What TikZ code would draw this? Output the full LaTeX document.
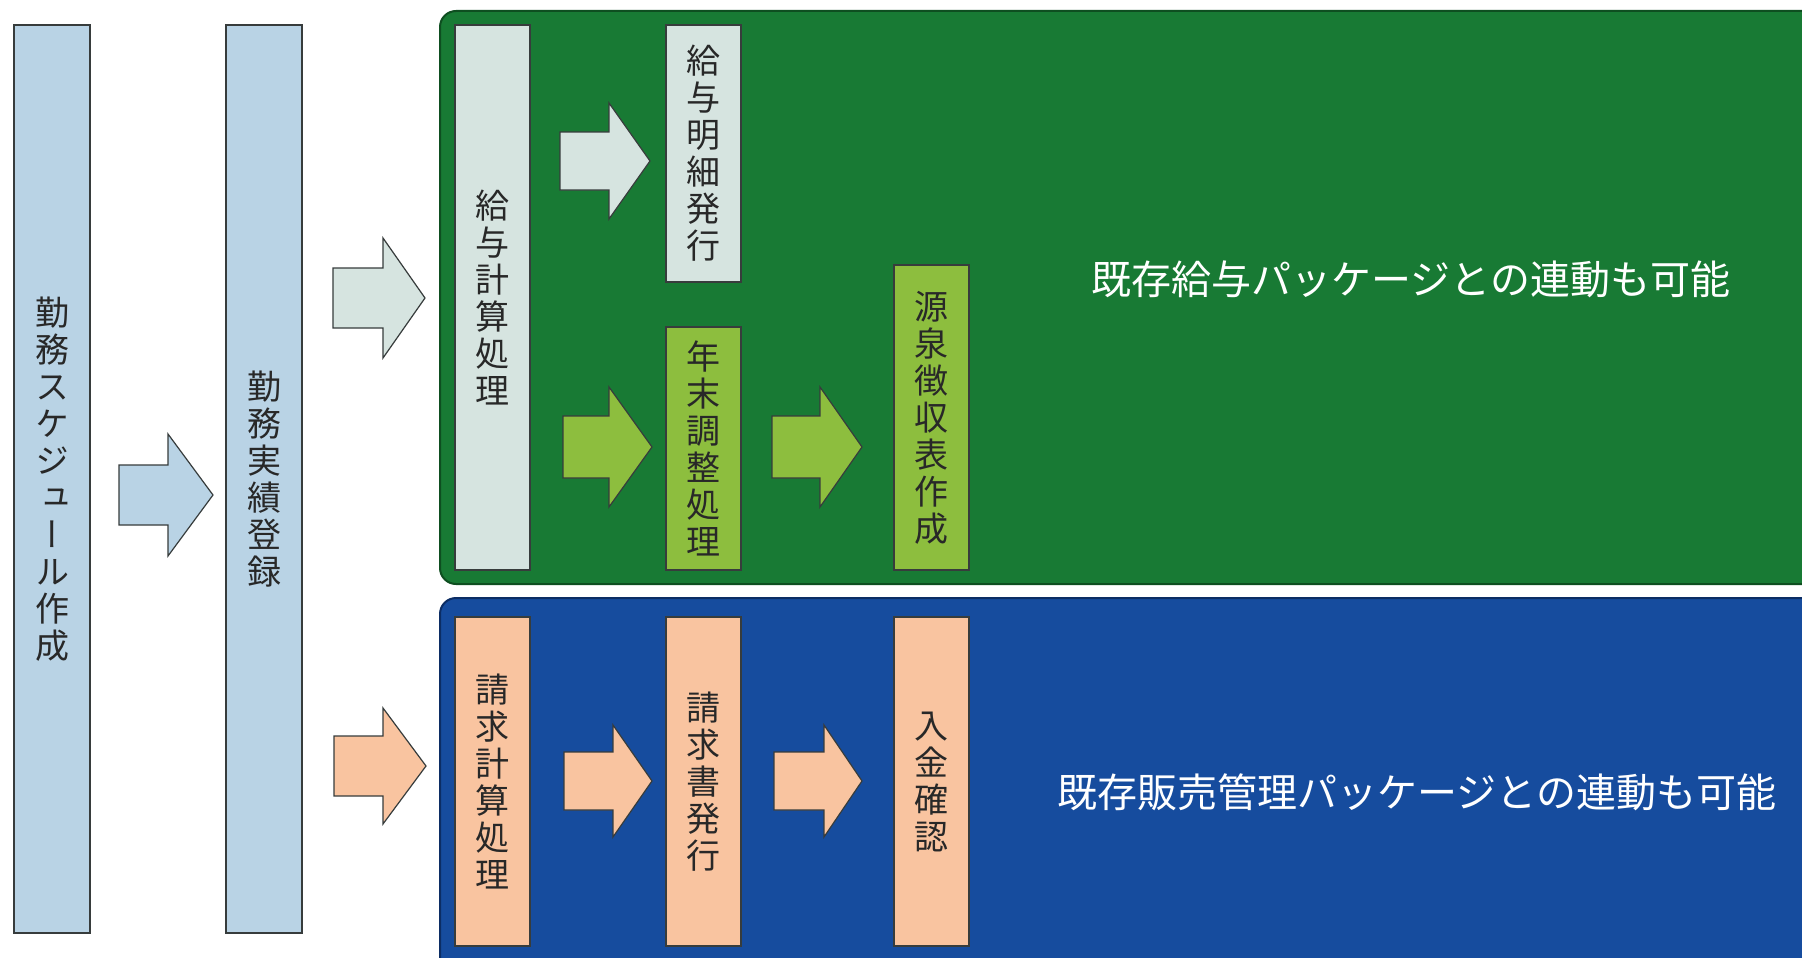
\documentclass[tikz,border=0pt]{standalone}
\usepackage{fontspec}
\setmainfont{Noto Sans CJK JP}
\newfontfamily\vfont[RawFeature={+vert}]{Noto Sans CJK JP}
\definecolor{edge}{RGB}{55,60,60}
\definecolor{lblue}{RGB}{185,211,229}
\definecolor{lgray}{RGB}{214,228,224}
\definecolor{gpanel}{RGB}{24,122,52}
\definecolor{gpanelE}{RGB}{14,78,32}
\definecolor{lgreen}{RGB}{141,190,62}
\definecolor{bpanel}{RGB}{22,76,158}
\definecolor{bpanelE}{RGB}{12,45,100}
\definecolor{salmon}{RGB}{249,196,160}
\definecolor{txt}{RGB}{40,40,40}
\newcommand\barrow[7]{%
  \draw[arr, fill=#7] ({#1},{#4-#5}) -- ({#2},{#4-#5}) -- ({#2},{#4-#6}) -- ({#3},{#4})
    -- ({#2},{#4+#6}) -- ({#2},{#4+#5}) -- ({#1},{#4+#5}) -- cycle;}
\begin{document}
\begin{tikzpicture}[x=1pt,y=-1pt,
  box/.style={draw=edge, line width=2pt, inner sep=0pt, text=txt,
    font=\vfont\fontsize{34}{37}\selectfont, align=center},
  arr/.style={draw=edge, line width=1.2pt, line join=miter},
  panel/.style={rounded corners=16pt, line width=2pt},
  lab/.style={text=white, font=\fontsize{40}{44}\selectfont, inner sep=0pt}]
\useasboundingbox (0,0) rectangle (1802,958);
\clip (0,0) rectangle (1802,958);
\fill[white] (0,0) rectangle (1802,958);
% panels
\draw[panel, fill=gpanel, draw=gpanelE] (440,11) rectangle (1840,584);
\draw[panel, fill=bpanel, draw=bpanelE] (440,598) rectangle (1840,1000);
% left boxes
\node[box, fill=lblue, minimum width=76pt, minimum height=908pt] (b1) at (52,479)
  {勤\\務\\ス\\ケ\\ジ\\ュ\\ー\\ル\\作\\成};
\node[box, fill=lblue, minimum width=76pt, minimum height=908pt] (b2) at (264,479)
  {勤\\務\\実\\績\\登\\録};
% green panel boxes
\node[box, fill=lgray, minimum width=75pt, minimum height=545pt] (g1) at (492.5,297.5)
  {給\\与\\計\\算\\処\\理};
\node[box, fill=lgray, minimum width=75pt, minimum height=257pt] (g2) at (703.5,153.5)
  {給\\与\\明\\細\\発\\行};
\node[box, fill=lgreen, minimum width=75pt, minimum height=243pt] (g3) at (703.5,448.5)
  {年\\末\\調\\整\\処\\理};
\node[box, fill=lgreen, minimum width=75pt, minimum height=305pt] (g4) at (931.5,417.5)
  {源\\泉\\徴\\収\\表\\作\\成};
% blue panel boxes
\node[box, fill=salmon, minimum width=75pt, minimum height=329pt] (s1) at (492.5,781.5)
  {請\\求\\計\\算\\処\\理};
\node[box, fill=salmon, minimum width=75pt, minimum height=329pt] (s2) at (703.5,781.5)
  {請\\求\\書\\発\\行};
\node[box, fill=salmon, minimum width=75pt, minimum height=329pt] (s3) at (931.5,781.5)
  {入\\金\\確\\認};
% block arrows
\barrow{119}{168}{213}{495}{30}{61}{lblue}
\barrow{333}{383}{425}{298}{30}{60}{lgray}
\barrow{334}{383}{426}{766}{30}{58}{salmon}
\barrow{560}{609}{650}{161}{29}{58}{lgray}
\barrow{563}{609}{652}{447}{31}{60}{lgreen}
\barrow{772}{820}{862}{447}{31}{60}{lgreen}
\barrow{564}{613}{652}{781}{29}{56}{salmon}
\barrow{774}{824}{862}{781}{29}{56}{salmon}
% labels
\node[lab] (lg) at (1411,279) {既存給与パッケージとの連動も可能};
\node[lab] (lb) at (1417,792) {既存販売管理パッケージとの連動も可能};
\end{tikzpicture}
\end{document}
